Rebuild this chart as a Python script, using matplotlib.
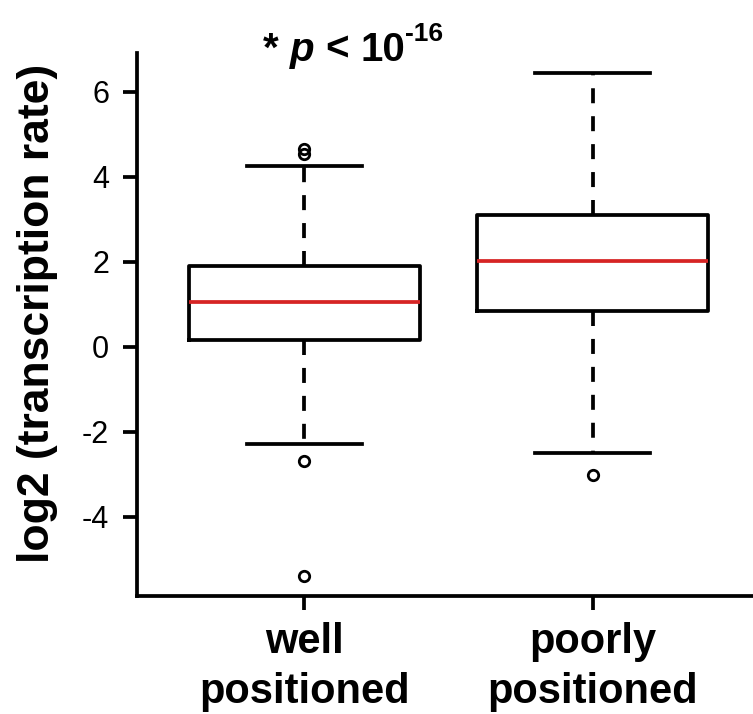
"""Boxplot of transcription rate for well vs poorly positioned nucleosomes."""

import matplotlib

matplotlib.use("Agg")
import matplotlib.pyplot as plt

groups = ["well\npositioned", "poorly\npositioned"]
q1 = [0.16, 0.83]
medians = [1.05, 2.02]
q3 = [1.90, 3.11]
whisker_low = [-2.29, -2.49]
whisker_high = [4.24, 6.43]
outliers = [[4.54, 4.66, -2.68, -5.39], [-3.02]]
y_ticks = [-4, -2, 0, 2, 4, 6]

# title pieces: (text, fontstyle, size, raise in px)
title_parts = [("*", "normal", 29, 0), ("p", "italic", 29, 0), ("<", "normal", 29, 0),
               ("10", "normal", 29, 0), ("-16", "normal", 19, 20)]
title_gaps = [1, 1, 1, 0, 0]  # spaces after each piece

plt.rcParams["font.family"] = ["Liberation Sans", "DejaVu Sans"]

LW = 2.7
stats = [
    {"q1": a, "med": m, "q3": b, "whislo": lo, "whishi": hi, "fliers": f, "label": g}
    for a, m, b, lo, hi, f, g in zip(q1, medians, q3, whisker_low, whisker_high, outliers, groups)
]

fig = plt.figure(figsize=(7.53, 7.14), dpi=100)
ax = fig.add_axes([0.1819, 0.1653, 0.8274, 0.7601])
positions = list(range(1, len(groups) + 1))
ax.bxp(
    stats,
    positions=positions,
    widths=0.8,
    capwidths=0.4,
    boxprops={"color": "black", "linewidth": LW},
    whiskerprops={"color": "black", "linewidth": LW, "linestyle": (0, (4.0, 3.45))},
    capprops={"color": "black", "linewidth": LW},
    medianprops={"color": "#d62424", "linewidth": LW},
    flierprops={"marker": "o", "markersize": 7.5, "markerfacecolor": "none",
                "markeredgecolor": "black", "markeredgewidth": 2.0},
)

# R-style axis ranges: 4% padding around the data / box positions
all_vals = whisker_low + whisker_high + [v for f in outliers for v in f]
lo, hi = min(all_vals), max(all_vals)
pad = 0.04 * (hi - lo)
ax.set_ylim(lo - pad, hi + pad)
xpad = 0.04 * len(groups)
ax.set_xlim(0.5 - xpad, len(groups) + 0.5 + xpad)

ax.set_yticks(y_ticks)
ax.set_yticklabels([str(t) for t in y_ticks], fontsize=22)
ax.set_xticks(positions)
ax.set_xticklabels(groups, fontsize=30, fontweight="bold", linespacing=1.3)
ax.tick_params(axis="both", direction="out", length=10, width=LW, color="black")
ax.tick_params(axis="y", pad=10)
ax.tick_params(axis="x", pad=9)

for side in ("top", "right"):
    ax.spines[side].set_visible(False)
for side in ("left", "bottom"):
    ax.spines[side].set_linewidth(LW)

ax.set_ylabel("log2 (transcription rate)", fontsize=32, fontweight="bold")
ax.yaxis.set_label_coords(-0.127, 0.52)

# title assembled piece by piece so "p" can be bold italic and "-16" raised
fig.canvas.draw()
renderer = fig.canvas.get_renderer()
baseline_px = 714 - 61
texts, widths = [], []
for s, style, size, _ in title_parts:
    t = fig.text(0, 0, s, fontsize=size, fontweight="bold", fontstyle=style,
                 va="baseline", ha="left", transform=None)
    texts.append(t)
    widths.append(t.get_window_extent(renderer).width)
space_px = 0.278 * 29 * 100 / 72
total = sum(widths) + space_px * sum(title_gaps)
x = 353 - total / 2
for t, w, gap, (_, _, _, lift) in zip(texts, widths, title_gaps, title_parts):
    t.set_position((x, baseline_px + lift))
    x += w + gap * space_px

fig.savefig("out.png", dpi=100)
